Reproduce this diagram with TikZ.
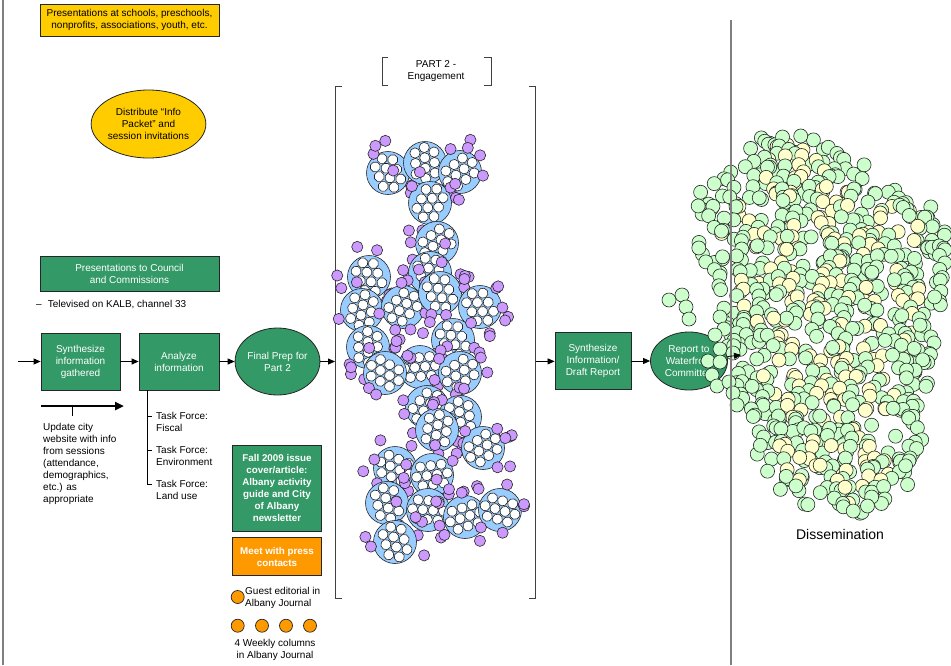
\documentclass[tikz,border=0pt]{standalone}
\usepackage{fontspec}
\setmainfont{Liberation Sans}
\usetikzlibrary{arrows.meta,shapes.geometric}
\definecolor{gyel}{HTML}{FFCC00}
\definecolor{ggrn}{HTML}{339966}
\definecolor{gorg}{HTML}{FF9900}
\definecolor{gblu}{HTML}{99CCFF}
\definecolor{gpur}{HTML}{CC99FF}
\definecolor{col0}{HTML}{CCFFCC}
\definecolor{col1}{HTML}{FFFFCC}
\definecolor{lgray}{HTML}{7F7F7F}
\tikzset{
  txt/.style={font=\fontsize{10}{12}\selectfont, align=center, inner sep=0pt},
  boxbase/.style={txt, draw=black!85, line width=0.8pt},
  ybox/.style={boxbase, fill=gyel},
  yell/.style={boxbase, fill=gyel, ellipse},
  gbox/.style={boxbase, fill=ggrn, text=white},
  gell/.style={gbox, ellipse},
  obox/.style={boxbase, fill=gorg, text=white},
  bold/.style={font=\bfseries\fontsize{9.8}{12}\selectfont},
  plain/.style={txt, align=left},
  arr/.style={-{Triangle[length=7pt,width=6pt]}, line width=0.8pt},
  brk/.style={draw=black!75, line width=0.9pt},
  odot/.style={circle, draw=black!85, line width=0.7pt, fill=gorg, minimum size=13pt, inner sep=0pt},
  cd/.style={draw=black!85, line width=0.6pt},
}
\newcommand\mkclus[2]{%
  \pgfmathsetmacro\crot{360*rnd}%
  \draw[cd, fill=gblu] (#1,#2) circle (21.5pt);
  \begin{scope}[shift={(#1,#2)}, rotate=\crot]
    \foreach \p in {(-10.5,-9.5),(0,-9.5),(10.5,-9.5),(-15.5,0),(-5.2,0),(5.2,0),(15.5,0),(-10.5,9.5),(0,9.5),(10.5,9.5)}
      \draw[cd, fill=white] \p circle (5.1pt);
  \end{scope}
  \pgfmathtruncatemacro\ns{5+4*rnd}%
  \foreach \k in {1,...,\ns}{%
    \pgfmathsetmacro\sa{360*rnd}%
    \pgfmathsetmacro\sd{22+12*rnd}%
    \draw[cd, fill=gpur] (#1,#2) ++(\sa:\sd) circle (5.6pt);
  }%
}
\begin{document}
\begin{tikzpicture}[x=1pt,y=-1pt]
\useasboundingbox (0,0) rectangle (951,665);
\fill[white] (0,0) rectangle (951,665);
\draw[lgray, line width=1.5pt] (3,0) -- (3,665);

% left column
\node[ybox, minimum width=179pt, minimum height=32pt] (pres) at (129.5,20) {Presentations at schools, preschools,\\nonprofits, associations, youth, etc.};
\node[yell, minimum width=104pt, minimum height=68pt] (dist) at (148.5,124) {Distribute “Info\\Packet” and\\session invitations};
\node[gbox, minimum width=179pt, minimum height=35pt] (council) at (129.5,273.5) {Presentations to Council\\and Commissions};
\node[plain, anchor=west] (tele) at (36,305) {–\hspace{6pt}Televised on KALB, channel 33};

\coordinate (in) at (18,361.5);
\node[gbox, minimum width=79pt, minimum height=57pt] (syn) at (80.5,361.5) {Synthesize\\information\\gathered};
\node[gbox, minimum width=80pt, minimum height=57pt] (ana) at (179,361.5) {Analyze\\information};
\node[gell, minimum width=78pt, minimum height=67pt] (fin) at (277.5,361.5) {Final Prep for\\Part 2};
\coordinate (p2in) at (335,361.5);
\coordinate (p2out) at (535,361.5);
\node[gbox, minimum width=76pt, minimum height=57pt] (syn2) at (593,361) {Synthesize\\Information/\\Draft Report};
\node[gell, minimum width=77pt, minimum height=58pt] (rep) at (689,361) {Report to\\Waterfront\\Committee};
\coordinate (dis) at (741,355);

\draw[arr] (in) -- (syn);
\draw[arr] (syn) -- (ana);
\draw[arr] (ana) -- (fin);
\draw[arr] (fin) -- (p2in);
\draw[arr] (p2out) -- (syn2);
\draw[arr] (syn2) -- (rep);

% website update
\coordinate (wa) at (41,406);
\coordinate (wb) at (124,406);
\draw[line width=2.4pt, -{Triangle[length=9pt,width=8pt]}] (wa) -- (wb);
\draw[line width=0.8pt] (72,407) -- (72,416);
\node[plain, anchor=north west] (web) at (43,423.5) {Update city\\website with info\\from sessions\\(attendance,\\demographics,\\etc.) as\\appropriate};

% task forces
\draw[line width=0.8pt] (147,390) -- (147,484) -- (152,484);
\draw[line width=0.8pt] (147,416.5) -- (152,416.5);
\draw[line width=0.8pt] (147,450.5) -- (152,450.5);
\node[plain, anchor=north west] (tf1) at (156,412.5) {Task Force:\\Fiscal};
\node[plain, anchor=north west] (tf2) at (156,446.5) {Task Force:\\Environment};
\node[plain, anchor=north west] (tf3) at (156,480) {Task Force:\\Land use};

% media
\node[gbox, bold, minimum width=89.5pt, minimum height=86pt] (fall) at (277,488) {Fall 2009 issue\\cover/article:\\Albany activity\\guide and City\\of Albany\\newsletter};
\node[obox, bold, minimum width=89.5pt, minimum height=38.5pt] (press) at (277,556.5) {Meet with press\\contacts};
\node[odot] (g1) at (237.7,597) {};
\node[plain, anchor=west] (guest) at (245,597.5) {Guest editorial in\\Albany Journal};
\node[odot] (w1) at (237.7,625.7) {};
\node[odot] (w2) at (262,625.7) {};
\node[odot] (w3) at (286,625.7) {};
\node[odot] (w4) at (310,625.7) {};
\node[txt] (weekly) at (275,650) {4 Weekly columns\\in Albany Journal};

% Part 2 brackets
\draw[brk] (388,57) -- (382,57) -- (382,85) -- (388,85);
\draw[brk] (484,57) -- (491,57) -- (491,85) -- (484,85);
\node[txt] (p2) at (436,71) {PART 2 -\\Engagement};
\draw[brk] (342,86) -- (335,86) -- (335,598) -- (342,598);
\draw[brk] (529,86) -- (535,86) -- (535,598) -- (529,598);

% clusters
\pgfmathsetseed{4711}
\foreach \cx/\cy in {388/173, 425/163, 460/172, 430/203, 437/243, 430/273, 369/277,
  362/310, 403/307, 440/293, 480/307, 453/340, 368/347, 420/367, 385/373, 460/373,
  427/407, 460/417, 437/430, 483/448, 395/468, 432/475, 387/503, 428/510, 465/517,
  500/510, 395/542}{%
  \mkclus{\cx}{\cy}
}

% dissemination cloud
\pgfmathsetseed{2024}
\foreach \ry/\rl/\rr in {140/760/845, 150/745/860, 160/740/865, 170/725/870, 180/705/880,
  190/700/912, 200/698/925, 210/697/935, 220/696/940, 230/695/945, 240/695/948,
  250/698/948, 260/700/948, 270/702/948, 280/705/948, 290/708/946, 300/712/945,
  310/716/944, 320/720/943, 330/722/940, 340/725/935, 350/728/932, 360/730/930,
  370/732/928, 380/734/928, 390/736/926, 400/738/925, 410/740/924, 420/742/923,
  430/745/922, 440/748/922, 450/752/920, 460/756/918, 470/762/915, 480/768/910,
  490/778/905, 500/800/890, 510/825/870}{%
  \pgfmathtruncatemacro\nn{(\rr-\rl)/9}%
  \foreach \k in {1,...,\nn}{%
    \pgfmathsetmacro\px{\rl+(\rr-\rl)*rnd}%
    \pgfmathsetmacro\py{\ry+10*(rnd-0.5)}%
    \pgfmathtruncatemacro\cc{and(rnd<0.33, and(\px>\rl+25, \px<\rr-25))}%
    \draw[cd, fill=col\cc] (\px,\py) circle (7pt);
  }%
}
\foreach \px/\py in {669/300, 682/295, 686/307, 689/319, 720/317, 724/329, 715/335,
  720/349, 708/361, 720/362, 712/375, 717/386, 729/382, 733/393, 737/405, 733/353}{%
  \draw[cd, fill=col0] (\px,\py) circle (7pt);
}
\draw[lgray, line width=1.5pt] (731,20) -- (731,665);
\draw[arr] (rep) -- (dis);
\node[font=\fontsize{14}{16}\selectfont, inner sep=0pt] (dissem) at (840,534) {Dissemination};
\end{tikzpicture}
\end{document}
